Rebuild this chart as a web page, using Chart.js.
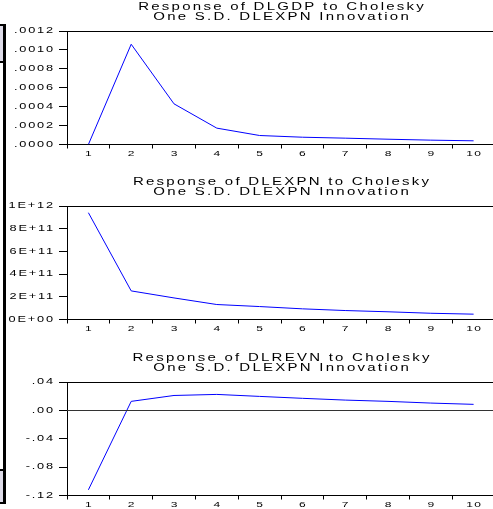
<!DOCTYPE html>
<html>
<head>
<meta charset="utf-8">
<script src="https://cdn.jsdelivr.net/npm/chart.js@4"></script>
<style>
  body { margin: 0; background: #fff; overflow: hidden; }
  canvas { position: absolute; left: 0; }
  .edge { position: absolute; box-sizing: border-box; }
</style>
</head>
<body>
<canvas id="gdpChart" width="500" height="176" style="top:0"></canvas>
<canvas id="expnChart" width="500" height="176" style="top:175px"></canvas>
<canvas id="revnChart" width="500" height="176" style="top:351px"></canvas>

<!-- bits of the neighbouring window cut off on the left -->
<div class="edge" style="left:0;top:24px;width:6px;height:39px;background:#dddbe8;border-top:2px solid #000;border-bottom:2px solid #000;border-right:3px solid #000"></div>
<div class="edge" style="left:3px;top:61px;width:3px;height:410px;background:#000"></div>
<div class="edge" style="left:0;top:469px;width:6px;height:35px;background:#dddbe8;border-top:2px solid #000;border-bottom:2px solid #000;border-right:3px solid #000"></div>

<script>
// impulse response horizon
const periods = ['1', '2', '3', '4', '5', '6', '7', '8', '9', '10'];

// responses to one S.D. DLEXPN innovation
const gdpResp  = [0, 0.00106, 0.00043, 0.000173, 0.000095, 0.000077, 0.000067, 0.000056, 0.000046, 0.000039];
const expnResp = [9.41e11, 2.52e11, 1.90e11, 1.32e11, 1.14e11, 0.94e11, 0.79e11, 0.68e11, 0.55e11, 0.47e11];
const revnResp = [-0.112, 0.0127, 0.021, 0.0225, 0.0197, 0.017, 0.0145, 0.0127, 0.0103, 0.0085];

// y tick labels, bottom to top
const gdpTicks  = ['.0000', '.0002', '.0004', '.0006', '.0008', '.0010', '.0012'];
const expnTicks = ['0E+00', '2E+11', '4E+11', '6E+11', '8E+11', '1E+12'];
const revnTicks = ['-.12', '-.08', '-.04', '.00', '.04'];

const gdpTitle  = ['Response of DLGDP to Cholesky', 'One S.D. DLEXPN Innovation'];
const expnTitle = ['Response of DLEXPN to Cholesky', 'One S.D. DLEXPN Innovation'];
const revnTitle = ['Response of DLREVN to Cholesky', 'One S.D. DLEXPN Innovation'];

const STRETCH = 1.5;
const FONT = '"Liberation Sans", Arial, sans-serif';

// EViews-style wide text: glyphs stretched horizontally
function wideText(ctx, txt, x, y, align, px, spacing) {
    ctx.save();
    ctx.font = px + 'px ' + FONT;
    ctx.letterSpacing = spacing + 'px';
    ctx.fillStyle = '#000';
    ctx.textBaseline = 'middle';
    ctx.textAlign = 'left';
    const w = (ctx.measureText(txt).width - spacing) * STRETCH;
    const left = align === 'center' ? x - w / 2 : align === 'right' ? x - w : x;
    ctx.translate(left, y);
    ctx.scale(STRETCH, 1);
    ctx.fillText(txt, 0, 0);
    ctx.restore();
}

const evText = {
    id: 'evText',
    afterDraw(chart, args, opts) {
        const { ctx, chartArea } = chart;
        const xs = chart.scales.x, ys = chart.scales.y;

        ctx.save();
        ctx.strokeStyle = '#000';
        ctx.lineWidth = 1;
        // top frame line
        ctx.beginPath();
        ctx.moveTo(chartArea.left, Math.round(chartArea.top) + 0.5);
        ctx.lineTo(chart.width, Math.round(chartArea.top) + 0.5);
        ctx.stroke();
        // zero line
        if (opts.zero) {
            const y0 = Math.round(ys.getPixelForValue(0)) + 0.5;
            ctx.strokeStyle = '#333';
            ctx.beginPath();
            ctx.moveTo(chartArea.left, y0);
            ctx.lineTo(chart.width, y0);
            ctx.stroke();
        }
        ctx.restore();

        const cx = (chartArea.left + chartArea.right) / 2;
        wideText(ctx, opts.title[0], cx, chartArea.top - 23.5, 'center', 10, 1.5);
        wideText(ctx, opts.title[1], cx, chartArea.top - 13.5, 'center', 10, 1.5);

        ys.ticks.forEach((t, i) => {
            wideText(ctx, opts.yLabels[i], chartArea.left - 14, ys.getPixelForValue(t.value), 'right', 8.5, 1.2);
        });
        periods.forEach((p, i) => {
            wideText(ctx, p, xs.getPixelForValue(i), chartArea.bottom + 9, 'center', 8, 0.8);
        });
    }
};

function makePanel(id, values, yMin, yMax, step, yLabels, title, zero) {
    new Chart(document.getElementById(id), {
        type: 'line',
        data: {
            labels: periods,
            datasets: [{
                data: values,
                borderColor: '#0000ff',
                borderWidth: 1,
                pointRadius: 0,
                tension: 0,
                fill: false
            }]
        },
        options: {
            responsive: false,
            animation: false,
            layout: { padding: { top: 31, left: 0, right: 5, bottom: 0 } },
            plugins: {
                legend: { display: false },
                tooltip: { enabled: false },
                evText: { title: title, yLabels: yLabels, zero: zero }
            },
            scales: {
                x: {
                    offset: true,
                    grid: { display: true, offset: true, drawOnChartArea: false, drawTicks: true, tickLength: 4, color: '#000' },
                    border: { display: true, color: '#000' },
                    ticks: { display: false },
                    afterFit: s => { s.height = 31.5; }
                },
                y: {
                    min: yMin,
                    max: yMax,
                    grid: { display: true, drawOnChartArea: false, drawTicks: true, tickLength: 8, color: '#000' },
                    border: { display: true, color: '#000' },
                    ticks: { display: false, stepSize: step },
                    afterFit: s => { s.width = 67; }
                }
            }
        },
        plugins: [evText]
    });
}

makePanel('gdpChart', gdpResp, 0, 0.0012, 0.0002, gdpTicks, gdpTitle, false);
makePanel('expnChart', expnResp, 0, 1e12, 2e11, expnTicks, expnTitle, false);
makePanel('revnChart', revnResp, -0.12, 0.04, 0.04, revnTicks, revnTitle, true);
</script>
</body>
</html>
